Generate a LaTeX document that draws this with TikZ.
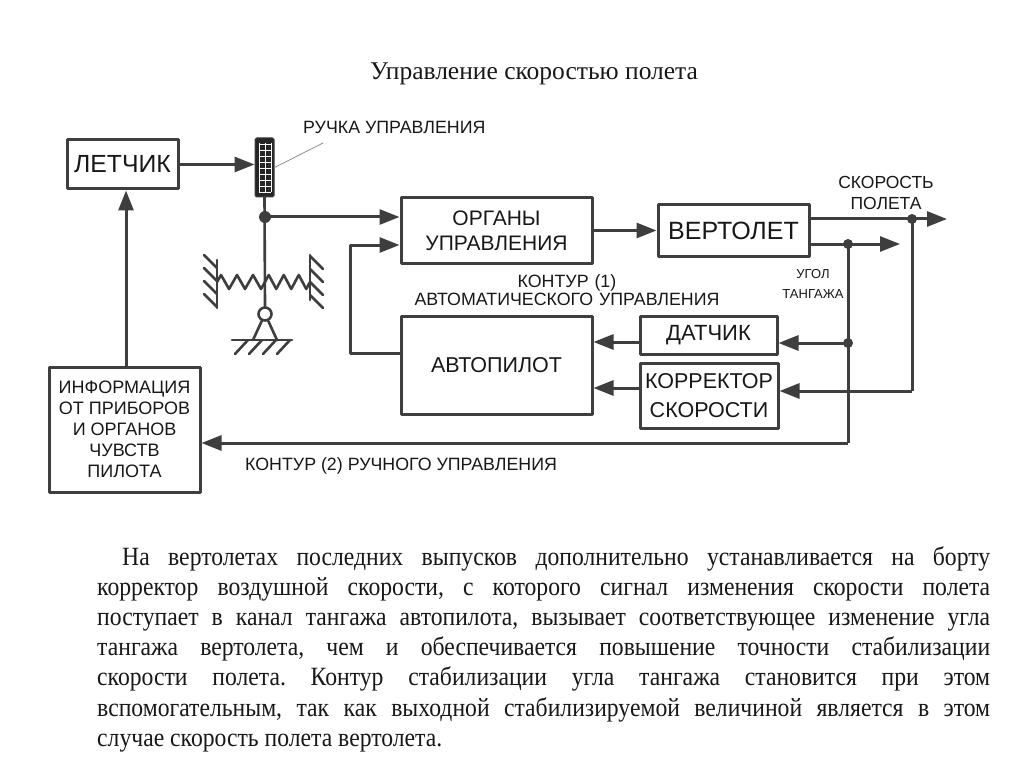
\documentclass[tikz,border=0pt]{standalone}
\usepackage{fontspec}
\setmainfont{Liberation Serif}
\newfontfamily\diagfont{Liberation Sans}
\newfontfamily\bodyfont[FakeStretch=0.9]{Liberation Serif}
\usetikzlibrary{arrows.meta,decorations.pathmorphing}
\definecolor{linegray}{RGB}{62,62,62}
\definecolor{textblack}{RGB}{24,24,24}
\frenchspacing

\begin{document}
\begin{tikzpicture}[x=1pt,y=-1pt,line join=round,>={Triangle[length=20pt,width=15pt]},
	blok/.style={draw=linegray,line width=3pt,fill=white,inner sep=0pt,align=center,text=textblack},
	conn/.style={draw=linegray,line width=3pt},
	mech/.style={draw=linegray,line width=2.6pt,line cap=round},
	dot/.style={circle,fill=linegray,inner sep=0pt,minimum size=10pt},
	lbl/.style={font=\diagfont\fontsize{17.8}{21}\selectfont,text=textblack,inner sep=0pt}]
			\useasboundingbox (0,0) rectangle (1024,767);
			\fill[white] (0,0) rectangle (1024,767);
			% title
			\node[font=\fontsize{25.5}{30}\selectfont,text=textblack,anchor=base,inner sep=0pt] (title) at (534,80) {Управление скоростью полета};
			% blocks
			\node[blok,minimum width=111pt,minimum height=49pt,font=\diagfont\fontsize{24.8}{27}\selectfont] (letchik) at (122.5,164.5) {ЛЕТЧИК};
			\node[blok,minimum width=191pt,minimum height=65pt,font=\diagfont\fontsize{21}{25}\selectfont] (organy) at (496.5,230.5) {ОРГАНЫ\\УПРАВЛЕНИЯ};
			\node[blok,minimum width=151pt,minimum height=51pt,font=\diagfont\fontsize{25}{27}\selectfont] (vertolet) at (733.5,230.5) {ВЕРТОЛЕТ};
			\node[blok,minimum width=191pt,minimum height=98pt,font=\diagfont\fontsize{21.5}{24}\selectfont] (avtopilot) at (496.5,365) {АВТОПИЛОТ};
			\node[blok,minimum width=137pt,minimum height=38pt,font=\diagfont\fontsize{22}{24}\selectfont] (datchik) at (708.5,335) {ДАТЧИК};
			\node[blok,minimum width=138pt,minimum height=65pt,font=\diagfont\fontsize{21.5}{29}\selectfont] (korrektor) at (709,395.5) {КОРРЕКТОР\\СКОРОСТИ};
			\node[blok,minimum width=151pt,minimum height=125pt,font=\diagfont\fontsize{18}{21}\selectfont] (info) at (124.5,429.5) {ИНФОРМАЦИЯ\\ОТ ПРИБОРОВ\\И ОРГАНОВ\\ЧУВСТВ\\ПИЛОТА};
			% control stick
			\node[draw=linegray,fill=black!85,line width=1pt,rounded corners=1.5pt,minimum width=19pt,minimum height=59pt,inner sep=0pt] (ruchka) at (264.5,167.5) {};
			\foreach \yy in {144,150,...,192}
				\draw[white,line width=0.9pt] (259,\yy) -- (271,\yy);
			\foreach \xx in {259,265,271}
				\draw[white,line width=0.9pt] (\xx,143) -- (\xx,192);
			\node[circle,draw=linegray,line width=2.6pt,fill=white,minimum size=13pt,inner sep=0pt] (opora) at (265,314) {};
			\draw[mech] (ruchka.south) -- (opora.north);
			% springs and walls
			\draw[mech,decorate,decoration={zigzag,segment length=16pt,amplitude=7pt}] (217,282) -- (265,282);
			\draw[mech,decorate,decoration={zigzag,segment length=15pt,amplitude=7pt}] (265,282) -- (310,282);
			\draw[mech] (217,260) -- (217,308);
			\foreach \yy in {268,281,294,307}
				\draw[mech] (217,\yy) -- ++(-13,-13);
			\draw[mech] (310,255) -- (310,300);
			\foreach \yy in {256,269,282,295}
				\draw[mech] (310,\yy) -- ++(13,13);
			% pivot support
			\draw[mech] (opora.-115) -- (253,340);
			\draw[mech] (opora.-65) -- (277,340);
			\draw[mech] (232,340) -- (292,340);
			\foreach \xx in {248,262,276,290}
				\draw[mech] (\xx,340) -- ++(-13,14);
			% junctions
			\node[dot,minimum size=12pt] (jst) at (265,217) {};
			\node[dot] (jspeed) at (912,219) {};
			\node[dot] (jpitch) at (848,244) {};
			\node[dot] (jdat) at (848,343) {};
			\coordinate (fba) at (350,353);
			\coordinate (fbk) at (350,245);
			\coordinate (vout1) at (947,219);
			\coordinate (vout2) at (900,244);
			\coordinate (pitchdn) at (848,443);
			\coordinate (speeddn) at (912,391);
			\coordinate (ap1) at (593,342);
			\coordinate (ap2) at (593,388);
			\coordinate (up) at (126,0);
			\coordinate (lead) at (323,143);
			% connectors
			\draw[conn,->] (letchik.east) -- (letchik.east -| ruchka.west);
			\draw[conn,->] (jst.center) -- (jst.center -| organy.west);
			\draw[conn,->] (avtopilot.west |- fba) -- (fba) -- (fbk) -- (organy.west |- fbk);
			\draw[conn,->] (organy.east |- vertolet.west) -- (vertolet.west);
			\draw[conn,->] (vertolet.east |- vout1) -- (vout1);
			\draw[conn,->] (vertolet.east |- vout2) -- (vout2);
			\draw[conn] (jpitch.center) -- (pitchdn);
			\draw[conn,->] (pitchdn) -- (pitchdn -| info.east);
			\draw[conn,->] (jdat.center) -- (jdat.center -| datchik.east);
			\draw[conn] (jspeed.center) -- (speeddn);
			\draw[conn,->] (speeddn) -- (speeddn -| korrektor.east);
			\draw[conn,->] (datchik.west |- ap1) -- (avtopilot.east |- ap1);
			\draw[conn,->] (korrektor.west |- ap2) -- (avtopilot.east |- ap2);
			\draw[conn,->] (info.north -| up) -- (letchik.south -| up);
			\draw[gray,line width=0.7pt] (ruchka.east) -- (lead);
			% labels
			\node[lbl,anchor=base west] (lruchka) at (303,134) {РУЧКА УПРАВЛЕНИЯ};
			\node[lbl,anchor=base,text width=120pt,align=center,font=\diagfont\fontsize{17.5}{21}\selectfont] (lspeed) at (886,189) {СКОРОСТЬ\\ПОЛЕТА};
			\node[lbl,anchor=base,text width=90pt,align=center,font=\diagfont\fontsize{13}{20}\selectfont] (lpitch) at (813,278) {УГОЛ\\ТАНГАЖА};
			\node[lbl,anchor=base,text width=330pt,align=center,font=\diagfont\fontsize{17.8}{18}\selectfont] (lkontur1) at (567,287) {КОНТУР (1)\\АВТОМАТИЧЕСКОГО УПРАВЛЕНИЯ};
			\node[lbl,anchor=base west] (lkontur2) at (245,470) {КОНТУР (2) РУЧНОГО УПРАВЛЕНИЯ};
			% text
			\node[anchor=base west,inner sep=0pt,text width=893pt,align=justify,text=textblack,font=\bodyfont\fontsize{26.3}{30.2}\selectfont] (tekst) at (97,565) {\hspace*{25pt}На вертолетах последних выпусков дополнительно устанавливается на борту\linebreak
				корректор воздушной скорости, с которого сигнал изменения скорости полета\linebreak
				поступает в канал тангажа автопилота, вызывает соответствующее изменение угла\linebreak
				тангажа вертолета, чем и обеспечивается повышение точности стабилизации\linebreak
				скорости полета. Контур стабилизации угла тангажа становится при этом\linebreak
				вспомогательным, так как выходной стабилизируемой величиной является в этом\linebreak
				случае скорость полета вертолета.};
		\end{tikzpicture}
\end{document}
